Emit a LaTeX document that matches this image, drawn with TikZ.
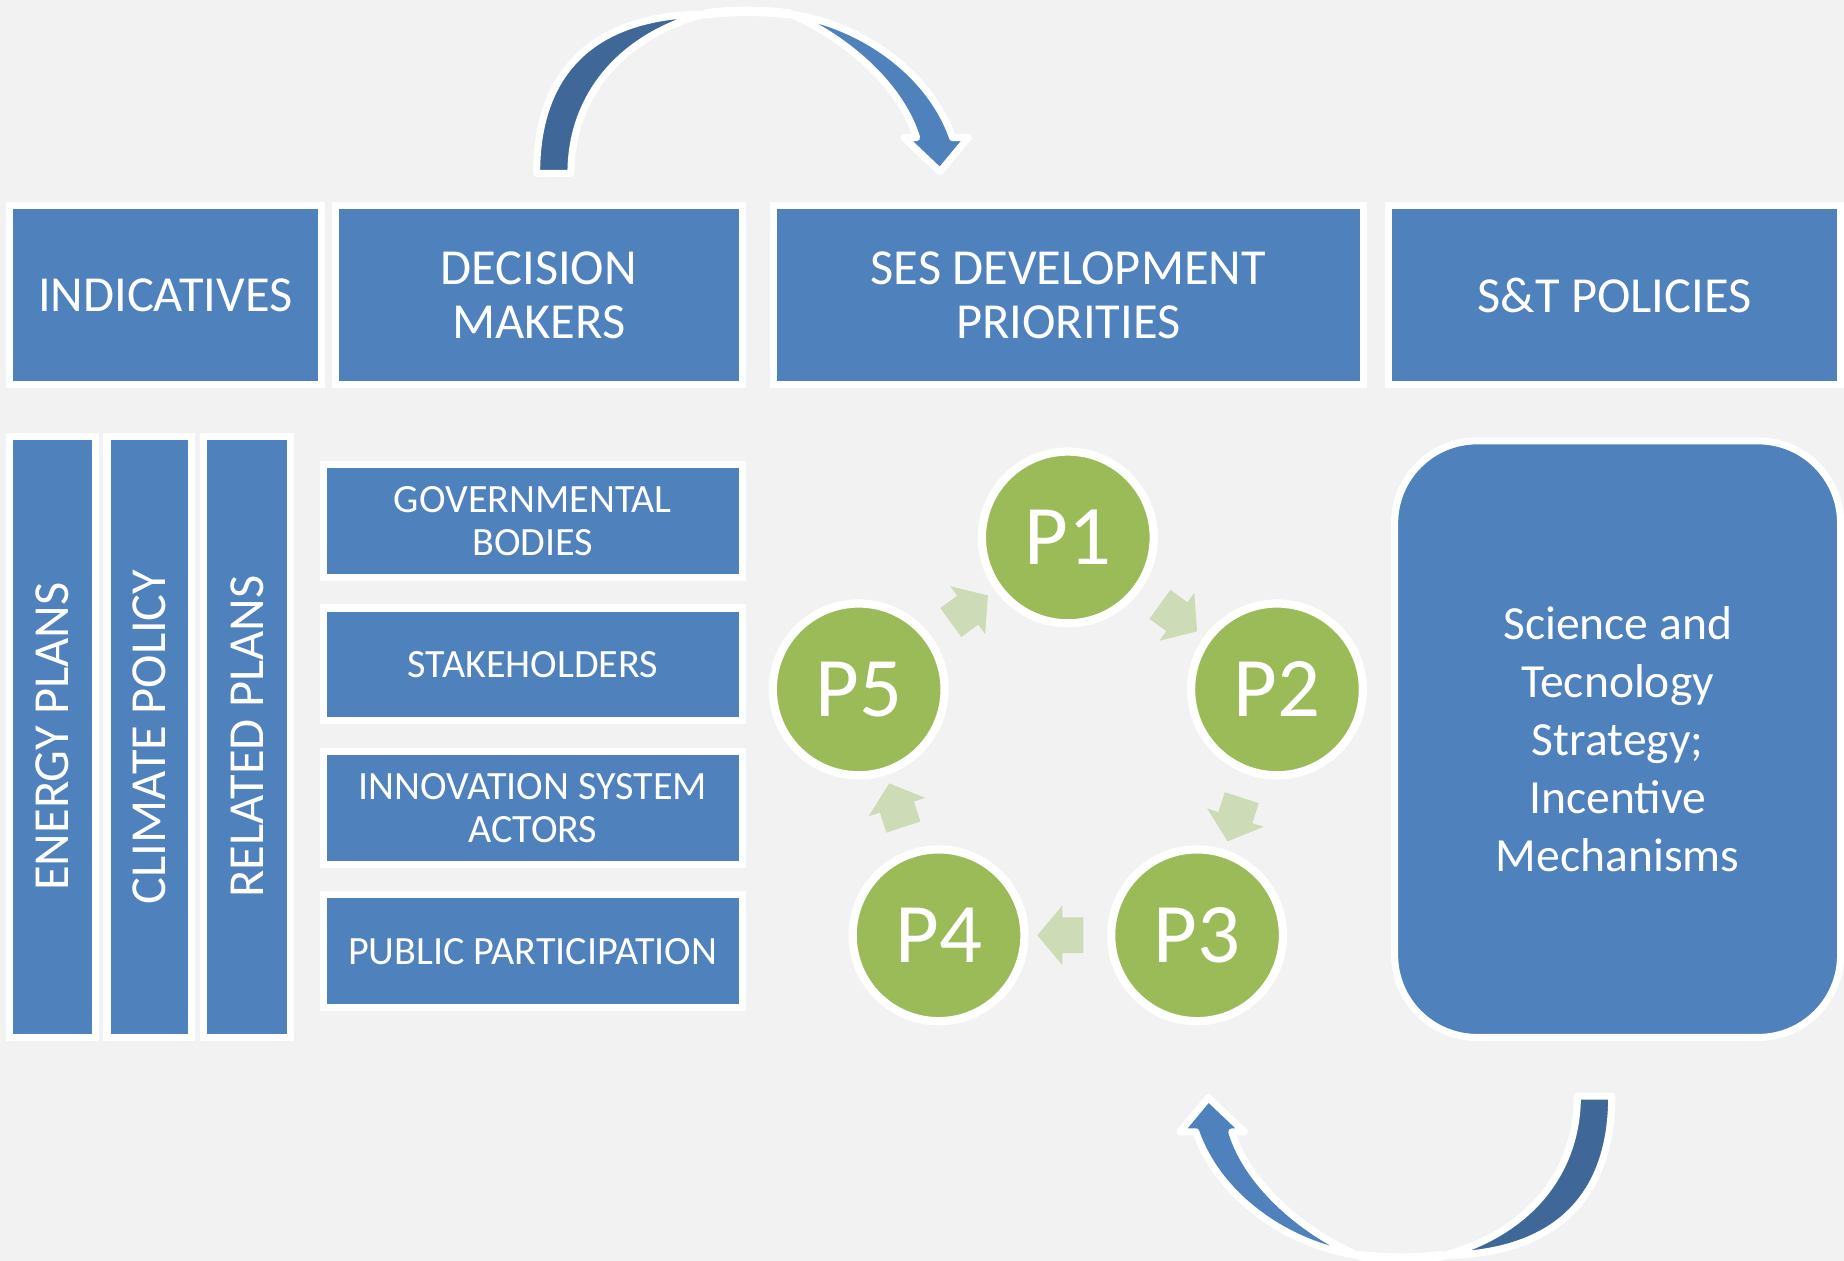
\documentclass[tikz,border=0pt]{standalone}
\usepackage{fontspec}
\setmainfont{Carlito}
\usetikzlibrary{shapes.arrows,calc}
\definecolor{pageback}{HTML}{F2F2F2}
\definecolor{boxblue}{HTML}{4F81BD}
\definecolor{backblue}{HTML}{3F6899}
\definecolor{stepgreen}{HTML}{9BBB59}
\definecolor{flowgreen}{HTML}{CDDBB7}
\tikzset{
  bluebox/.style={draw=white, line width=0.06cm, fill=boxblue, text=white,
    inner sep=0pt, align=center},
  headbox/.style={bluebox, minimum height=1.52cm,
    font=\fontsize{12.2}{13}\selectfont},
  actorbox/.style={bluebox, minimum width=3.56cm, minimum height=0.96cm,
    font=\fontsize{9.7}{10.3}\selectfont},
  planbar/.style={bluebox, rotate=90, minimum width=5.11cm,
    font=\fontsize{12.2}{13}\selectfont},
  stepcircle/.style={circle, draw=white, line width=0.07cm, fill=stepgreen,
    text=white, minimum size=1.46cm, inner sep=0pt,
    font=\fontsize{20.5}{22}\selectfont},
  flowarrow/.style={single arrow, fill=flowgreen, minimum height=0.39cm,
    inner xsep=0pt, inner ysep=0.145cm, single arrow head extend=0.1cm,
    single arrow tip angle=100, sloped, allow upside down},
  turnline/.style={draw=white, line width=0.06cm, line join=round}
}
\begin{document}
\begin{tikzpicture}[x=0.01cm, y=0.01cm]
  \path[fill=pageback, use as bounding box] (0,0) rectangle (1568,-1072);

  % top row
  \node[headbox, minimum width=2.65cm] (indic) at (140.5,-251) {INDICATIVES};
  \node[headbox, minimum width=3.46cm] (decis) at (458,-251) {DECISION\\MAKERS};
  \node[headbox, minimum width=5.01cm] (prior) at (908.5,-251) {SES DEVELOPMENT\\PRIORITIES};
  \node[headbox, minimum width=3.84cm] (policy) at (1373,-251) {S\&T POLICIES};

  % plans
  \node[planbar, minimum height=0.73cm] (energy) at (44.5,-626.5) {ENERGY PLANS};
  \node[planbar, minimum height=0.72cm] (climate) at (127,-626.5) {CLIMATE POLICY};
  \node[planbar, minimum height=0.74cm] (related) at (210,-626.5) {RELATED PLANS};

  % decision makers
  \node[actorbox] (govern) at (453,-443) {GOVERNMENTAL\\BODIES};
  \node[actorbox] (stake) at (453,-565) {STAKEHOLDERS};
  \node[actorbox] (innov) at (453,-687) {INNOVATION SYSTEM\\ACTORS};
  \node[actorbox] (public) at (453,-809) {PUBLIC PARTICIPATION};

  % strategy
  \node[bluebox, rounded corners=0.7cm, minimum width=3.79cm, minimum height=5.07cm,
    font=\fontsize{11.5}{14}\selectfont] (strategy) at (1375.5,-628.5)
    {Science and\\Tecnology\\Strategy;\\Incentive\\Mechanisms};

  % priorities cycle
  \coordinate (hub) at (908,-644);
  \foreach \i in {1,...,5}
    \node[stepcircle] (p\i) at ($(hub)+({162-72*\i}:187)$) {P\i};
  \foreach \a/\b in {1/2,2/3,3/4,4/5,5/1}
    \path (p\a) -- (p\b) node[flowarrow, midway] {};

  % curved arrows
  \foreach \cx/\cy/\turn in {633/-147.4/0, 1193.8/-932/180} {
    \begin{scope}[shift={(\cx,\cy)}, rotate=\turn]
      \draw[turnline, line width=0.08cm] (-33.5,135.5)
        .. controls (-10,138.5) and (15,138.5) .. (38.8,135.5);
      \filldraw[turnline, fill=backblue] (-176.7,0)
        .. controls (-176.7,82.4) and (-133,134.4) .. (-33.5,135.5)
        .. controls (-103,117.4) and (-147.5,67.4) .. (-147.5,0) -- cycle;
      \filldraw[turnline, fill=boxblue] (38.8,135.5)
        .. controls (97,127.4) and (157,87.4) .. (177,30.4)
        -- (190.4,30.4) -- (166.3,1.4) -- (135.7,30.4) -- (146.4,30.4)
        .. controls (132,77.4) and (82,117.4) .. (38.8,135.5) -- cycle;
    \end{scope}
  }
\end{tikzpicture}
\end{document}
